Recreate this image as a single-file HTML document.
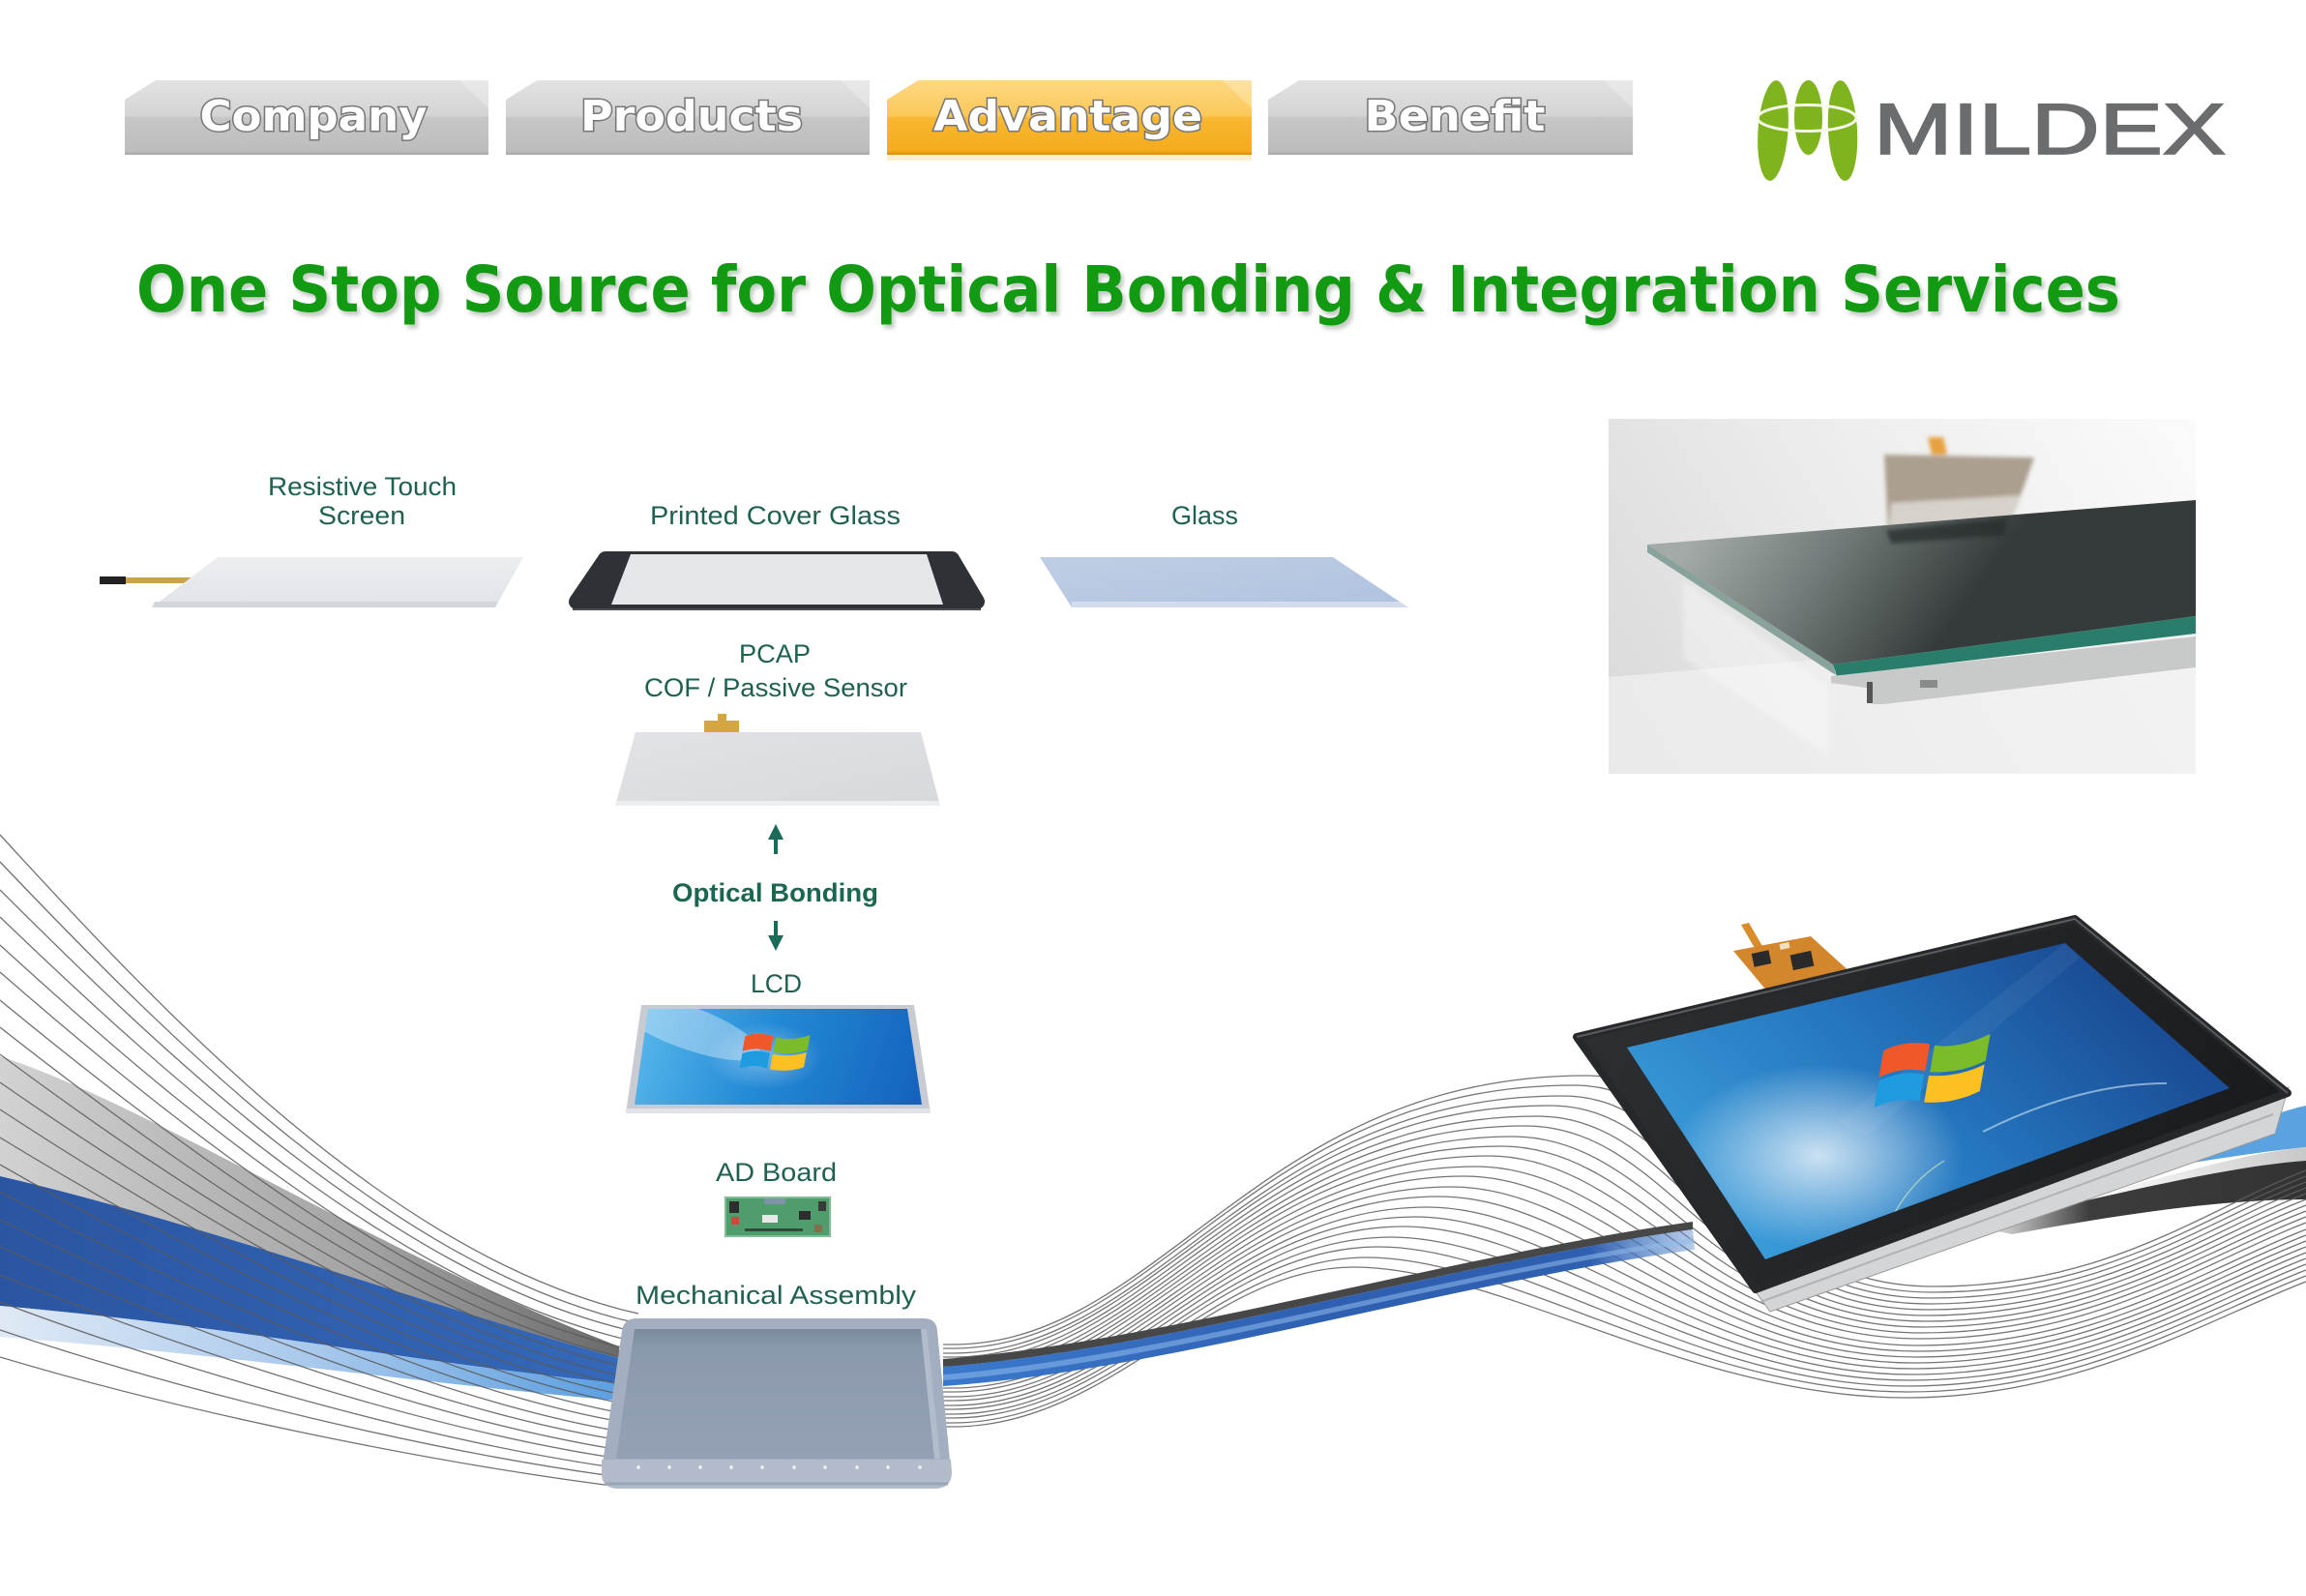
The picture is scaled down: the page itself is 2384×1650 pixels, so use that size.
<!DOCTYPE html>
<html><head><meta charset="utf-8"><style>html,body{margin:0;padding:0;background:#fff;}svg{display:block;}</style></head>
<body>
<svg width="2384" height="1650" viewBox="0 0 2384 1650" xmlns="http://www.w3.org/2000/svg">
<defs>
<linearGradient id="gBtn" x1="0" y1="0" x2="0" y2="1">
<stop offset="0" stop-color="#e2e2e2"/><stop offset="0.48" stop-color="#d4d4d4"/><stop offset="0.5" stop-color="#c6c6c6"/><stop offset="0.95" stop-color="#bdbdbd"/><stop offset="1" stop-color="#a4a4a4"/></linearGradient>
<linearGradient id="gBtnO" x1="0" y1="0" x2="0" y2="1">
<stop offset="0" stop-color="#fdd884"/><stop offset="0.48" stop-color="#fbc858"/><stop offset="0.5" stop-color="#f8b832"/><stop offset="0.95" stop-color="#f5ab1c"/><stop offset="1" stop-color="#d68e0c"/></linearGradient>
<filter id="blur2"><feGaussianBlur stdDeviation="2"/></filter>
<filter id="blur3"><feGaussianBlur stdDeviation="3"/></filter>
<linearGradient id="gGrayBand" gradientUnits="userSpaceOnUse" x1="0" y1="0" x2="640" y2="0">
<stop offset="0" stop-color="#d2d2d2"/><stop offset="0.6" stop-color="#a2a2a2"/><stop offset="1" stop-color="#6a6a6a"/></linearGradient>
<linearGradient id="gBlueBand" gradientUnits="userSpaceOnUse" x1="0" y1="0" x2="640" y2="0">
<stop offset="0" stop-color="#2a55a2"/><stop offset="1" stop-color="#3468b8"/></linearGradient>
<linearGradient id="gLBlue" gradientUnits="userSpaceOnUse" x1="0" y1="0" x2="640" y2="0">
<stop offset="0" stop-color="#dfe9f5"/><stop offset="0.5" stop-color="#a9c9ec"/><stop offset="1" stop-color="#5c9fe0"/></linearGradient>
<linearGradient id="gMid" gradientUnits="userSpaceOnUse" x1="985" y1="0" x2="1760" y2="0">
<stop offset="0" stop-color="#3a78cc"/><stop offset="0.5" stop-color="#2f5fb0"/><stop offset="0.85" stop-color="#2f5fb0"/><stop offset="1" stop-color="#5f8fd0" stop-opacity="0.4"/></linearGradient>
<linearGradient id="gDark" gradientUnits="userSpaceOnUse" x1="2040" y1="0" x2="2384" y2="0">
<stop offset="0" stop-color="#3d3d3d" stop-opacity="0"/><stop offset="0.35" stop-color="#3d3d3d"/><stop offset="1" stop-color="#333"/></linearGradient>
<linearGradient id="gLGray" gradientUnits="userSpaceOnUse" x1="2150" y1="0" x2="2384" y2="0">
<stop offset="0" stop-color="#cfcfcf" stop-opacity="0"/><stop offset="1" stop-color="#c8c8c8"/></linearGradient>
<linearGradient id="gBez" gradientUnits="userSpaceOnUse" x1="1630" y1="950" x2="2365" y2="1333">
<stop offset="0" stop-color="#2e3033"/><stop offset="1" stop-color="#17181a"/></linearGradient>
<linearGradient id="gScr" gradientUnits="userSpaceOnUse" x1="2135" y1="975" x2="1825" y2="1302">
<stop offset="0" stop-color="#1a4d96"/><stop offset="0.5" stop-color="#2577bf"/><stop offset="1" stop-color="#3a9bd9"/></linearGradient>
<radialGradient id="gGlow" cx="0.5" cy="0.5" r="0.5">
<stop offset="0" stop-color="#ffffff" stop-opacity="0.75"/><stop offset="1" stop-color="#ffffff" stop-opacity="0"/></radialGradient>
<linearGradient id="gLcd" gradientUnits="userSpaceOnUse" x1="660" y1="1043" x2="950" y2="1142">
<stop offset="0" stop-color="#5ab8ec"/><stop offset="0.45" stop-color="#238ad6"/><stop offset="1" stop-color="#1462bd"/></linearGradient>
<linearGradient id="gRes" x1="0" y1="0" x2="0" y2="1"><stop offset="0" stop-color="#eceef1"/><stop offset="1" stop-color="#e0e3e8"/></linearGradient>
<linearGradient id="gPcap" x1="0" y1="0" x2="1" y2="1"><stop offset="0" stop-color="#e2e3e6"/><stop offset="1" stop-color="#d6d8dc"/></linearGradient>
<linearGradient id="gGlass" x1="0" y1="0" x2="1" y2="1"><stop offset="0" stop-color="#c0cee4"/><stop offset="1" stop-color="#afc2df"/></linearGradient>
<linearGradient id="gTray" x1="0" y1="0" x2="0" y2="1"><stop offset="0" stop-color="#7b899f"/><stop offset="0.15" stop-color="#8b99ae"/><stop offset="1" stop-color="#94a1b5"/></linearGradient>
<linearGradient id="gPhoto" gradientUnits="userSpaceOnUse" x1="1663" y1="800" x2="2270" y2="433">
<stop offset="0" stop-color="#d8d8d8"/><stop offset="0.5" stop-color="#ececec"/><stop offset="1" stop-color="#fbfbfb"/></linearGradient>
<linearGradient id="gPlate" gradientUnits="userSpaceOnUse" x1="1760" y1="545" x2="1980" y2="700">
<stop offset="0" stop-color="#a3aaa8"/><stop offset="0.45" stop-color="#737c7a"/><stop offset="1" stop-color="#353b3a"/></linearGradient>
<g id="win">
<path d="M6 8 C18 2 32 2 46 8 L42 38 C28 32 16 32 2 38 Z" fill="#f0582a"/>
<path d="M50 10 C64 16 80 14 98 6 L94 36 C78 44 62 44 46 40 Z" fill="#7cbb2a"/>
<path d="M2 42 C16 36 28 36 41 42 L37 72 C24 66 12 66 -2 72 Z" fill="#1f9be0"/>
<path d="M45 44 C60 48 76 48 93 40 L89 70 C72 78 56 78 41 74 Z" fill="#fbc022"/>
</g>
<clipPath id="clipScr"><path d="M1682 1083 L2135 975 L2305 1125 L1825 1302 Z"/></clipPath>
<clipPath id="clipLcd"><path d="M670 1043 L938 1043 L953 1142 L656 1142 Z"/></clipPath>
<clipPath id="clipPhoto"><rect x="1663" y="433" width="607" height="367"/></clipPath>
</defs>

<rect width="2384" height="1650" fill="#fff"/>

<!-- NAV -->
<g>
<path d="M129 103 L161 83 L505 83 L505 160 L129 160 Z" fill="url(#gBtn)"/>
<path d="M523 103 L555 83 L899 83 L899 160 L523 160 Z" fill="url(#gBtn)"/>
<path d="M917 103 L949 83 L1294 83 L1294 160 L917 160 Z" fill="url(#gBtnO)"/>
<path d="M1311 103 L1343 83 L1688 83 L1688 160 L1311 160 Z" fill="url(#gBtn)"/>
<path d="M475 83 L505 83 L505 112 Z" fill="#fff" opacity="0.25"/>
<path d="M869 83 L899 83 L899 112 Z" fill="#fff" opacity="0.25"/>
<path d="M1264 83 L1294 83 L1294 112 Z" fill="#fff" opacity="0.25"/>
<path d="M1658 83 L1688 83 L1688 112 Z" fill="#fff" opacity="0.25"/>
<rect x="917" y="160" width="377" height="6" fill="#fbe3b0" opacity="0.6"/>
<g font-family="'DejaVu Sans', 'Liberation Sans', sans-serif" font-weight="bold" font-size="44" fill="#fff" stroke="#777" stroke-width="3" paint-order="stroke" text-anchor="middle">
<text x="324" y="135" textLength="235" lengthAdjust="spacingAndGlyphs">Company</text>
<text x="715" y="135" textLength="230" lengthAdjust="spacingAndGlyphs">Products</text>
<text x="1104" y="135" textLength="278" lengthAdjust="spacingAndGlyphs">Advantage</text>
<text x="1504" y="135" textLength="187" lengthAdjust="spacingAndGlyphs">Benefit</text>
</g>
</g>

<!-- LOGO -->
<g fill="#80b41e">
<ellipse cx="1833" cy="135" rx="15.5" ry="52" transform="rotate(4 1833 135)"/>
<ellipse cx="1869.5" cy="121.5" rx="14.5" ry="38.5"/>
<ellipse cx="1905" cy="135" rx="15" ry="52" transform="rotate(-3 1905 135)"/>
</g>
<ellipse cx="1868" cy="122" rx="51" ry="13.5" fill="none" stroke="#f4fae6" stroke-width="3"/>
<text x="1937" y="159" font-family="'Liberation Sans', sans-serif" font-size="74" fill="#6b6c6e" stroke="#6b6c6e" stroke-width="1.8" textLength="364" lengthAdjust="spacingAndGlyphs">MILDEX</text>

<!-- TITLE -->
<text x="144" y="326" font-family="'DejaVu Sans', 'Liberation Sans', sans-serif" font-weight="bold" font-size="66" fill="#7a8a7a" opacity="0.45" filter="url(#blur2)" textLength="2051" lengthAdjust="spacingAndGlyphs">One Stop Source for Optical Bonding &amp; Integration Services</text>
<text x="141" y="322" font-family="'DejaVu Sans', 'Liberation Sans', sans-serif" font-weight="bold" font-size="66" fill="#139a13" textLength="2051" lengthAdjust="spacingAndGlyphs">One Stop Source for Optical Bonding &amp; Integration Services</text>

<!-- PHOTO -->
<g clip-path="url(#clipPhoto)">
<rect x="1663" y="433" width="607" height="367" fill="url(#gPhoto)"/>
<path d="M1663 700 L2270 650 L2270 800 L1663 800 Z" fill="#f1f1f1" opacity="0.7"/>
<g filter="url(#blur2)">
<path d="M1948 470 L2103 473 L2079 540 L1952 553 Z" fill="#ab9f90"/>
<path d="M1955 520 L2090 512 L2079 540 L1952 553 Z" fill="#d6d2cb"/>
<path d="M1993 452 L2009 452 L2013 470 L1997 470 Z" fill="#e8a040"/>
</g>
<path d="M1703 563 L2270 517 L2270 637 L1895 687 Z" fill="url(#gPlate)"/>
<path d="M1950 548 L2075 536 L2072 553 L1955 562 Z" fill="#262a29" opacity="0.7" filter="url(#blur2)"/>
<path d="M1703 563 L1895 687 L1898 698 L1703 571 Z" fill="#8aa29c"/>
<path d="M1895 687 L2270 637 L2270 655 L1899 699 Z" fill="#2a7d6b"/>
<path d="M1893 699 L2270 658 L2270 690 L1948 728 L1936 728 L1936 712 L1893 706 Z" fill="#c8caca"/>
<rect x="1930" y="705" width="6" height="22" fill="#555"/>
<rect x="1985" y="703" width="18" height="8" fill="#8a8a8a"/>
<path d="M1740 600 L1890 710 L1890 780 L1740 680 Z" fill="#ffffff" opacity="0.35" filter="url(#blur3)"/>
</g>

<!-- LEFT SWOOSH BANDS -->
<path d="M0 1092 C150 1140 400 1300 640 1392 L640 1404 C450 1352 200 1262 0 1216 Z" fill="url(#gGrayBand)"/>
<path d="M0 1216 C200 1262 450 1352 640 1404 L640 1430 C450 1412 250 1372 0 1350 Z" fill="url(#gBlueBand)"/>
<path d="M0 1350 C250 1372 450 1412 640 1430 L640 1448 C450 1432 250 1402 0 1382 Z" fill="url(#gLBlue)"/>

<!-- LEFT LINES -->
<g fill="none" stroke="#5a5a5a" stroke-width="1.3" opacity="0.85">
<path d="M0 863 C180 1060 400 1290 643 1354 L660 1358"/>
<path d="M0 891 C181 1081 403 1302 642 1364 L660 1368"/>
<path d="M0 920 C182 1102 405 1313 641 1373 L660 1377"/>
<path d="M0 948 C183 1124 408 1325 640 1383 L660 1387"/>
<path d="M0 977 C184 1145 411 1337 639 1392 L660 1396"/>
<path d="M0 1005 C185 1166 413 1348 638 1402 L660 1406"/>
<path d="M0 1034 C186 1187 416 1360 637 1411 L660 1415"/>
<path d="M0 1062 C187 1209 418 1372 636 1421 L660 1425"/>
<path d="M0 1090 C188 1230 421 1383 635 1430 L660 1434"/>
<path d="M0 1119 C190 1251 424 1395 635 1440 L660 1444"/>
<path d="M0 1147 C191 1272 426 1407 634 1449 L660 1453"/>
<path d="M0 1176 C192 1293 429 1418 633 1459 L660 1463"/>
<path d="M0 1204 C193 1315 432 1430 632 1468 L660 1472"/>
<path d="M0 1232 C194 1336 434 1442 631 1478 L660 1482"/>
<path d="M0 1261 C195 1357 437 1454 630 1487 L660 1491"/>
<path d="M0 1289 C196 1378 439 1465 629 1497 L660 1501"/>
<path d="M0 1318 C197 1399 442 1477 628 1506 L660 1510"/>
<path d="M0 1346 C198 1421 445 1489 627 1516 L660 1520"/>
<path d="M0 1375 C199 1442 447 1500 626 1525 L660 1529"/>
<path d="M0 1403 C200 1463 450 1512 625 1535 L660 1538"/>
</g>

<!-- RIGHT BANDS -->
<path d="M2230 1205 C2290 1182 2340 1152 2384 1143 L2384 1186 C2340 1190 2280 1200 2230 1208 Z" fill="#5aa2e0"/>
<path d="M2150 1240 C2250 1214 2320 1192 2384 1186 L2384 1201 C2320 1207 2250 1224 2150 1246 Z" fill="url(#gLGray)"/>
<path d="M2040 1268 C2180 1236 2300 1206 2384 1200 L2384 1240 C2300 1240 2200 1254 2080 1276 Z" fill="url(#gDark)"/>

<!-- WAVE LINES -->
<g fill="none" stroke="#5e5e5e" stroke-width="1.3" opacity="0.85">
<path d="M975 1390 L985 1390 C1200 1390 1300 1112 1640 1112 C1790 1112 1780 1330 2000 1330 C2180 1330 2280 1250 2384 1210"/>
<path d="M975 1394 L985 1394 C1197 1394 1297 1122 1627 1122 C1777 1122 1778 1336 1998 1336 C2178 1336 2280 1256 2384 1216"/>
<path d="M975 1399 L985 1399 C1195 1399 1295 1133 1615 1133 C1765 1133 1777 1342 1997 1342 C2177 1342 2280 1262 2384 1222"/>
<path d="M975 1403 L985 1403 C1192 1403 1292 1143 1602 1143 C1752 1143 1775 1348 1995 1348 C2175 1348 2280 1268 2384 1228"/>
<path d="M975 1408 L985 1408 C1189 1408 1289 1154 1589 1154 C1739 1154 1774 1354 1994 1354 C2174 1354 2280 1274 2384 1234"/>
<path d="M975 1412 L985 1412 C1187 1412 1287 1164 1577 1164 C1727 1164 1772 1360 1992 1360 C2172 1360 2280 1280 2384 1240"/>
<path d="M975 1417 L985 1417 C1184 1417 1284 1175 1564 1175 C1714 1175 1771 1366 1991 1366 C2171 1366 2280 1286 2384 1246"/>
<path d="M975 1421 L985 1421 C1182 1421 1282 1185 1552 1185 C1702 1185 1769 1372 1989 1372 C2169 1372 2280 1292 2384 1252"/>
<path d="M975 1426 L985 1426 C1179 1426 1279 1195 1539 1195 C1689 1195 1767 1378 1987 1378 C2167 1378 2280 1298 2384 1258"/>
<path d="M975 1430 L985 1430 C1176 1430 1276 1206 1526 1206 C1676 1206 1766 1384 1986 1384 C2166 1384 2280 1304 2384 1264"/>
<path d="M975 1435 L985 1435 C1174 1435 1274 1216 1514 1216 C1664 1216 1764 1391 1984 1391 C2164 1391 2280 1311 2384 1271"/>
<path d="M975 1439 L985 1439 C1171 1439 1271 1227 1501 1227 C1651 1227 1763 1397 1983 1397 C2163 1397 2280 1317 2384 1277"/>
<path d="M975 1444 L985 1444 C1168 1444 1268 1237 1488 1237 C1638 1237 1761 1403 1981 1403 C2161 1403 2280 1323 2384 1283"/>
<path d="M975 1448 L985 1448 C1166 1448 1266 1248 1476 1248 C1626 1248 1759 1409 1979 1409 C2159 1409 2280 1329 2384 1289"/>
<path d="M975 1453 L985 1453 C1163 1453 1263 1258 1463 1258 C1613 1258 1758 1415 1978 1415 C2158 1415 2280 1335 2384 1295"/>
<path d="M975 1457 L985 1457 C1161 1457 1261 1268 1451 1268 C1601 1268 1756 1421 1976 1421 C2156 1421 2280 1341 2384 1301"/>
<path d="M975 1462 L985 1462 C1158 1462 1258 1279 1438 1279 C1588 1279 1755 1427 1975 1427 C2155 1427 2280 1347 2384 1307"/>
<path d="M975 1466 L985 1466 C1155 1466 1255 1289 1425 1289 C1575 1289 1753 1433 1973 1433 C2153 1433 2280 1353 2384 1313"/>
<path d="M975 1471 L985 1471 C1153 1471 1253 1300 1413 1300 C1563 1300 1752 1439 1972 1439 C2152 1439 2280 1359 2384 1319"/>
<path d="M975 1475 L985 1475 C1150 1475 1250 1310 1400 1310 C1550 1310 1750 1445 1970 1445 C2150 1445 2280 1365 2384 1325"/>
</g>

<!-- MID BLUE BAND -->
<path d="M975 1405 C1200 1388 1500 1298 1750 1263 L1750 1271 C1500 1306 1200 1396 975 1413 Z" fill="#474747"/>
<path d="M975 1413 C1200 1396 1500 1306 1750 1271 L1752 1292 C1500 1326 1200 1418 975 1433 Z" fill="url(#gMid)"/>
<path d="M975 1421 C1200 1404 1500 1314 1751 1280 L1751 1285 C1500 1319 1200 1410 975 1427 Z" fill="#8fbcec" opacity="0.55"/>

<!-- MONITOR -->
<path d="M1800 956 L1808 954 L1826 985 L1818 987 Z" fill="#d98c2a"/>
<path d="M1822 1018 L1912 1002 L1930 1022 L1840 1042 Z" fill="#e39b3a"/>
<path d="M1792 983 L1872 968 L1915 1007 L1827 1025 Z" fill="#d4862c"/>
<rect x="1812" y="984" width="18" height="14" fill="#2a2a2a" transform="rotate(-12 1821 991)"/>
<rect x="1852" y="985" width="22" height="16" fill="#2a2a2a" transform="rotate(-12 1863 993)"/>
<rect x="1840" y="975" width="10" height="6" fill="#f0e0c0" transform="rotate(-12 1845 978)"/>
<path d="M1808 1326 L2366 1124 L2352 1172 L1830 1356 Z" fill="#d3d5d7" stroke="#9c9c9c" stroke-width="1"/>
<path d="M1820 1346 L2350 1152" stroke="#b0b2b4" stroke-width="2"/>
<path d="M1630 1072 L2145 950 L2365 1130 L1815 1333 Z" fill="url(#gBez)" stroke="#26282b" stroke-width="8" stroke-linejoin="round"/>
<path d="M1630 1072 L2145 950 L2365 1130" fill="none" stroke="#5a5c60" stroke-width="2" stroke-linejoin="round"/>
<path d="M1682 1083 L2135 975 L2305 1125 L1825 1302 Z" fill="url(#gScr)"/>
<g clip-path="url(#clipScr)">
<ellipse cx="1880" cy="1195" rx="150" ry="95" fill="url(#gGlow)"/>
<path d="M1900 1160 L2135 975 L2150 990 L1930 1175 Z" fill="#ffffff" opacity="0.05"/>
<path d="M2050 1170 Q2150 1120 2240 1120" fill="none" stroke="#cfe8f8" stroke-width="2" opacity="0.6"/>
<path d="M1940 1300 Q1960 1230 2010 1200" fill="none" stroke="#d8efc0" stroke-width="1.5" opacity="0.6"/>
</g>
<use href="#win" transform="translate(1940 1080) skewY(-8) scale(1.2 0.9)"/>

<!-- COMPONENT LABELS -->
<g font-family="'Liberation Sans', sans-serif" font-size="27" fill="#1f6150" text-anchor="middle">
<text x="374.5" y="512" textLength="195" lengthAdjust="spacingAndGlyphs">Resistive Touch</text>
<text x="374" y="542" textLength="90" lengthAdjust="spacingAndGlyphs">Screen</text>
<text x="801.5" y="542" textLength="259" lengthAdjust="spacingAndGlyphs">Printed Cover Glass</text>
<text x="1245.5" y="542" textLength="69" lengthAdjust="spacingAndGlyphs">Glass</text>
<text x="801" y="685" textLength="74" lengthAdjust="spacingAndGlyphs">PCAP</text>
<text x="802" y="720" textLength="272" lengthAdjust="spacingAndGlyphs">COF / Passive Sensor</text>
<text x="802.5" y="1026" textLength="53" lengthAdjust="spacingAndGlyphs">LCD</text>
<text x="802.5" y="1221" textLength="125" lengthAdjust="spacingAndGlyphs">AD Board</text>
<text x="802" y="1348" textLength="290" lengthAdjust="spacingAndGlyphs">Mechanical Assembly</text>
<text x="801.5" y="932" font-weight="bold" textLength="213" lengthAdjust="spacingAndGlyphs" fill="#1b6650">Optical Bonding</text>
</g>

<!-- Resistive panel -->
<rect x="103" y="596" width="27" height="8" fill="#222"/>
<rect x="130" y="597" width="80" height="6" fill="#c9a24a"/>
<rect x="206" y="597" width="20" height="6" fill="#e2d2a6"/>
<path d="M225 576 L541 576 L512 628 L157 628 Z" fill="url(#gRes)"/>
<path d="M160 622 L515 622 L512 628 L157 628 Z" fill="#d3d7dd"/>

<!-- Cover glass -->
<path d="M626 578 L984 578 L1010 622 L596 622 Z" fill="#2e3236" stroke="#2e3236" stroke-width="16" stroke-linejoin="round"/>
<path d="M652 573 L958 573 L975 625 L632 625 Z" fill="#e4e6ea"/>
<path d="M592 630 L1014 630" stroke="#4a4e52" stroke-width="2"/>

<!-- Glass -->
<path d="M1075 576 L1378 576 L1456 628 L1108 628 Z" fill="url(#gGlass)"/>
<path d="M1108 622 L1447 622 L1456 628 L1108 628 Z" fill="#d2dcec"/>

<!-- PCAP sensor -->
<rect x="742" y="738" width="9" height="9" fill="#d4a540"/>
<rect x="728" y="745" width="36" height="13" fill="#d4a540"/>
<path d="M657 757 L952 757 L972 833 L636 833 Z" fill="url(#gPcap)"/>
<path d="M637 828 L971 828 L972 833 L636 833 Z" fill="#eceef0"/>

<!-- Arrows -->
<g fill="#1b6b58">
<path d="M802 852 L810 868 L794 868 Z"/>
<rect x="800" y="866" width="4" height="17"/>
<rect x="800" y="952" width="4" height="17"/>
<path d="M794 967 L810 967 L802 983 Z"/>
</g>

<!-- LCD -->
<path d="M663 1039 L945 1039 L962 1151 L647 1151 Z" fill="#c8ccd2"/>
<path d="M647 1146 L962 1146 L962 1151 L647 1151 Z" fill="#dfe2e6"/>
<path d="M670 1043 L938 1043 L953 1142 L656 1142 Z" fill="url(#gLcd)"/>
<g clip-path="url(#clipLcd)">
<ellipse cx="710" cy="1062" rx="80" ry="22" fill="#ffffff" opacity="0.35" transform="rotate(20 710 1062)"/>
<ellipse cx="790" cy="1092" rx="60" ry="35" fill="url(#gGlow)" opacity="0.5"/>
</g>
<use href="#win" transform="translate(766 1067) scale(0.73 0.52)"/>

<!-- AD Board -->
<rect x="750" y="1238" width="108" height="40" fill="#4f9c6d"/>
<rect x="750" y="1238" width="108" height="40" fill="none" stroke="#7fbf95" stroke-width="2"/>
<rect x="754" y="1242" width="10" height="12" fill="#2d2d2d"/>
<rect x="756" y="1258" width="8" height="8" fill="#c94a3a"/>
<rect x="790" y="1239" width="22" height="6" fill="#7e93a8"/>
<rect x="788" y="1256" width="16" height="8" fill="#e8e8e8"/>
<rect x="826" y="1252" width="12" height="9" fill="#2d2d2d"/>
<rect x="846" y="1242" width="8" height="10" fill="#3a3a3a"/>
<rect x="770" y="1270" width="60" height="3" fill="#2d4d3a"/>
<rect x="842" y="1266" width="8" height="8" fill="#8a6a4a"/>

<!-- Mechanical tray -->
<path d="M658 1363 L955 1363 Q968 1363 969 1376 L983 1520 Q984 1539 966 1539 L640 1539 Q621 1539 622 1520 L643 1376 Q645 1363 658 1363 Z" fill="#a3afc1"/>
<path d="M656 1374 L952 1374 L966 1508 L637 1508 Z" fill="url(#gTray)"/>
<path d="M952 1374 L958 1374 L972 1508 L966 1508 Z" fill="#b2bccb"/>
<path d="M622 1509 L983 1509 L984 1522 Q984 1539 966 1539 L640 1539 Q621 1539 622 1522 Z" fill="#b1bbca"/>
<path d="M626 1534 L980 1534" stroke="#9aa5b6" stroke-width="3"/>
<g fill="#f2f4f8">
<circle cx="660" cy="1517" r="1.8"/><circle cx="692" cy="1517" r="1.8"/><circle cx="724" cy="1517" r="1.8"/><circle cx="756" cy="1517" r="1.8"/><circle cx="788" cy="1517" r="1.8"/><circle cx="821" cy="1517" r="1.8"/><circle cx="853" cy="1517" r="1.8"/><circle cx="886" cy="1517" r="1.8"/><circle cx="918" cy="1517" r="1.8"/><circle cx="951" cy="1517" r="1.8"/>
</g>
</svg>
</body></html>
